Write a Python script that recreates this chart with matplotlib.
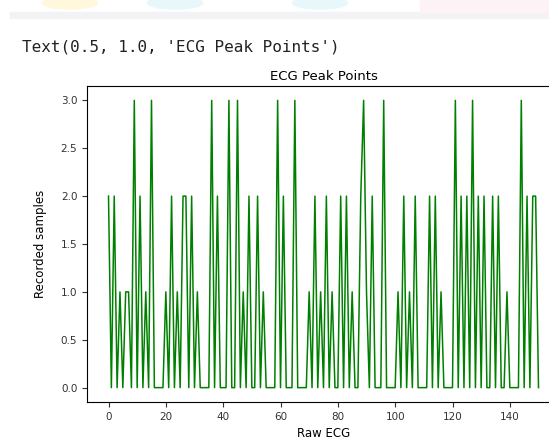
import matplotlib
matplotlib.use("Agg")
import matplotlib.pyplot as plt
from matplotlib.patches import Rectangle, Ellipse

# peak value per raw ECG sample
peaks = [2, 0, 2, 0, 1, 0, 1, 1, 0, 3,
         0, 2, 0, 1, 0, 3, 0, 0, 0, 0,
         1, 0, 2, 0, 1, 0, 2, 2, 0, 2,
         0, 1, 0, 0, 0, 0, 3, 0, 2, 0,
         0, 0, 3, 0, 0, 3, 0, 1, 0, 2,
         0, 0, 2, 0, 1, 0, 0, 0, 0, 3,
         0, 2, 0, 0, 0, 3, 0, 0, 0, 0,
         1, 0, 2, 0, 1, 0, 2, 0, 1, 0,
         0, 2, 0, 2, 0, 1, 0, 0, 2, 3,
         1, 0, 2, 0, 0, 0, 3, 0, 0, 0,
         0, 1, 0, 2, 0, 1, 0, 2, 0, 0,
         0, 0, 2, 0, 2, 0, 1, 0, 0, 0,
         0, 3, 0, 2, 0, 2, 0, 3, 0, 2,
         0, 2, 0, 0, 2, 0, 2, 0, 0, 1,
         0, 0, 0, 0, 3, 0, 2, 0, 2, 2,
         0]
x_ticks = [0, 20, 40, 60, 80, 100, 120, 140]
y_ticks = [0.0, 0.5, 1.0, 1.5, 2.0, 2.5, 3.0]

W, H = 549, 445
fig = plt.figure(figsize=(W / 100, H / 100), dpi=100)

# faint notebook page leftovers above the cell output
fig.patches.append(Rectangle((10 / W, 1 - 18 / H), 1, 6 / H, transform=fig.transFigure,
                             color="#f3f3f6", zorder=0))
for cx, col in [(70, "#fff8dc"), (175, "#e8f8fa"), (320, "#e8f8fa")]:
    fig.patches.append(Ellipse((cx / W, 1 - 3 / H), 55 / W, 12 / H, transform=fig.transFigure,
                               color=col, zorder=0))
fig.patches.append(Rectangle((420 / W, 1 - 12 / H), 1, 12 / H, transform=fig.transFigure,
                             color="#fdf2f5", zorder=0))

fig.text(22 / W, 1 - 47 / H, "Text(0.5, 1.0, 'ECG Peak Points')", family="DejaVu Sans Mono",
         fontsize=11.5, va="center", ha="left", color="#222222")

# axes runs past the right edge, like the cropped screenshot
left, right, top, bottom = 87, 560, 86, 402
ax = fig.add_axes([left / W, 1 - bottom / H, (right - left) / W, (bottom - top) / H])
ax.plot(range(len(peaks)), peaks, color="green", linewidth=1.1)
ax.set_xticks(x_ticks)
ax.set_yticks(y_ticks)
ax.tick_params(labelsize=7.5, colors="#333333")
ax.set_title("ECG Peak Points", fontsize=9.5, pad=4)
ax.set_xlabel("Raw ECG", fontsize=8.5, labelpad=4)
ax.set_ylabel("Recorded samples", fontsize=8.5, labelpad=10)

plt.savefig("out.png", dpi=100)
